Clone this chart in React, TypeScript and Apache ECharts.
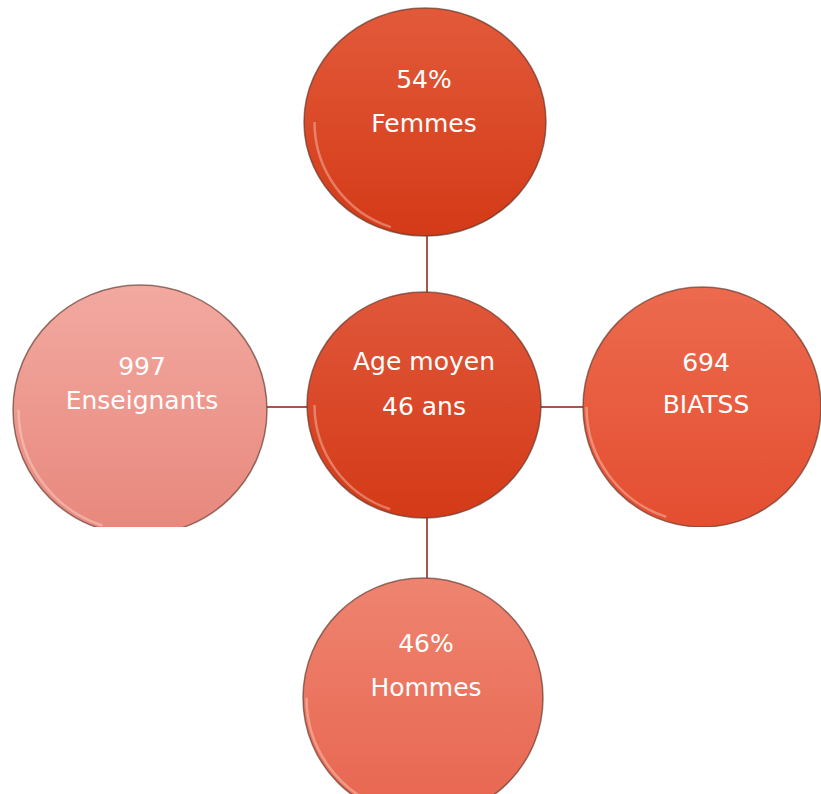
import React, { useEffect, useRef } from "react";
import * as echarts from "echarts";

// Diagram content
const nodeIds = ["top", "center", "left", "right", "bottom"];
const valueLabels = ["54%", "Age moyen", "997", "694", "46%"];
const nameLabels = ["Femmes", "46 ans", "Enseignants", "BIATSS", "Hommes"];

// Layout and styling (positions, sizes, colours)
const layout: Record<string, { cx: number; cy: number; rx: number; ry: number; t1: number; t2: number; tx: number; c1: string; c2: string; cut?: number }> = {
  top: { cx: 425, cy: 122, rx: 121, ry: 114, t1: 79, t2: 123, tx: 424, c1: "#e25a3a", c2: "#d43a17" },
  center: { cx: 424, cy: 405, rx: 117, ry: 113, t1: 361, t2: 406, tx: 424, c1: "#e0573a", c2: "#d43a17" },
  left: { cx: 140, cy: 410, rx: 127, ry: 125, t1: 366, t2: 400, tx: 142, c1: "#f2a9a0", c2: "#e8877c", cut: 527 },
  right: { cx: 702, cy: 407, rx: 119, ry: 120, t1: 362, t2: 404, tx: 706, c1: "#ec6a4e", c2: "#e44e30", cut: 527 },
  bottom: { cx: 423, cy: 698, rx: 120, ry: 120, t1: 643, t2: 687, tx: 426, c1: "#ee8470", c2: "#e8654f" },
};

const lineColor = "#a3584a";

export default function App() {
  const ref = useRef<HTMLDivElement>(null);
  useEffect(() => {
    document.body.style.margin = "0";
    if (!ref.current) return;
    const chart = echarts.init(ref.current, undefined, { renderer: "svg" });
    const elements: any[] = [];
    const c = layout.center;
    elements.push(
      { type: "line", shape: { x1: 427, y1: layout.top.cy + layout.top.ry - 2, x2: 427, y2: c.cy - c.ry + 2 }, style: { stroke: lineColor, lineWidth: 2 } },
      { type: "line", shape: { x1: 427, y1: c.cy + c.ry - 2, x2: 427, y2: layout.bottom.cy - layout.bottom.ry + 2 }, style: { stroke: lineColor, lineWidth: 2 } },
      { type: "line", shape: { x1: layout.left.cx + layout.left.rx - 2, y1: 407, x2: c.cx - c.rx + 2, y2: 407 }, style: { stroke: lineColor, lineWidth: 2 } },
      { type: "line", shape: { x1: c.cx + c.rx - 2, y1: 407, x2: layout.right.cx - layout.right.rx + 2, y2: 407 }, style: { stroke: lineColor, lineWidth: 2 } }
    );
    nodeIds.forEach((id, i) => {
      const L = layout[id];
      elements.push({
        type: "ellipse",
        shape: { cx: L.cx, cy: L.cy, rx: L.rx, ry: L.ry },
        style: {
          fill: new echarts.graphic.LinearGradient(0, 0, 0, 1, [
            { offset: 0, color: L.c1 },
            { offset: 1, color: L.c2 },
          ]),
          stroke: "rgba(95,55,45,0.65)",
          lineWidth: 1.5,
        },
      });
      elements.push({
        type: "arc",
        shape: { cx: L.cx, cy: L.cy, r: Math.min(L.rx, L.ry) - 3.5, startAngle: Math.PI * 0.6, endAngle: Math.PI * 1.0 },
        style: { stroke: "rgba(255,240,230,0.35)", lineWidth: 2.5, fill: "none" },
      });
      if (L.cut) {
        elements.push({
          type: "rect",
          shape: { x: L.cx - L.rx - 5, y: L.cut, width: L.rx * 2 + 10, height: 50 },
          style: { fill: "#ffffff" },
        });
      }
      elements.push({
        type: "text",
        x: L.tx,
        y: L.t1,
        style: { text: valueLabels[i], fill: "#ffffff", font: "25px 'DejaVu Sans'", textAlign: "center", textVerticalAlign: "middle" },
      });
      elements.push({
        type: "text",
        x: L.tx,
        y: L.t2,
        style: { text: nameLabels[i], fill: "#ffffff", font: "25px 'DejaVu Sans'", textAlign: "center", textVerticalAlign: "middle" },
      });
    });
    chart.setOption({ animation: false, backgroundColor: "#ffffff", graphic: { elements } });
    return () => chart.dispose();
  }, []);
  return <div ref={ref} style={{ width: 821, height: 794 }} />;
}
